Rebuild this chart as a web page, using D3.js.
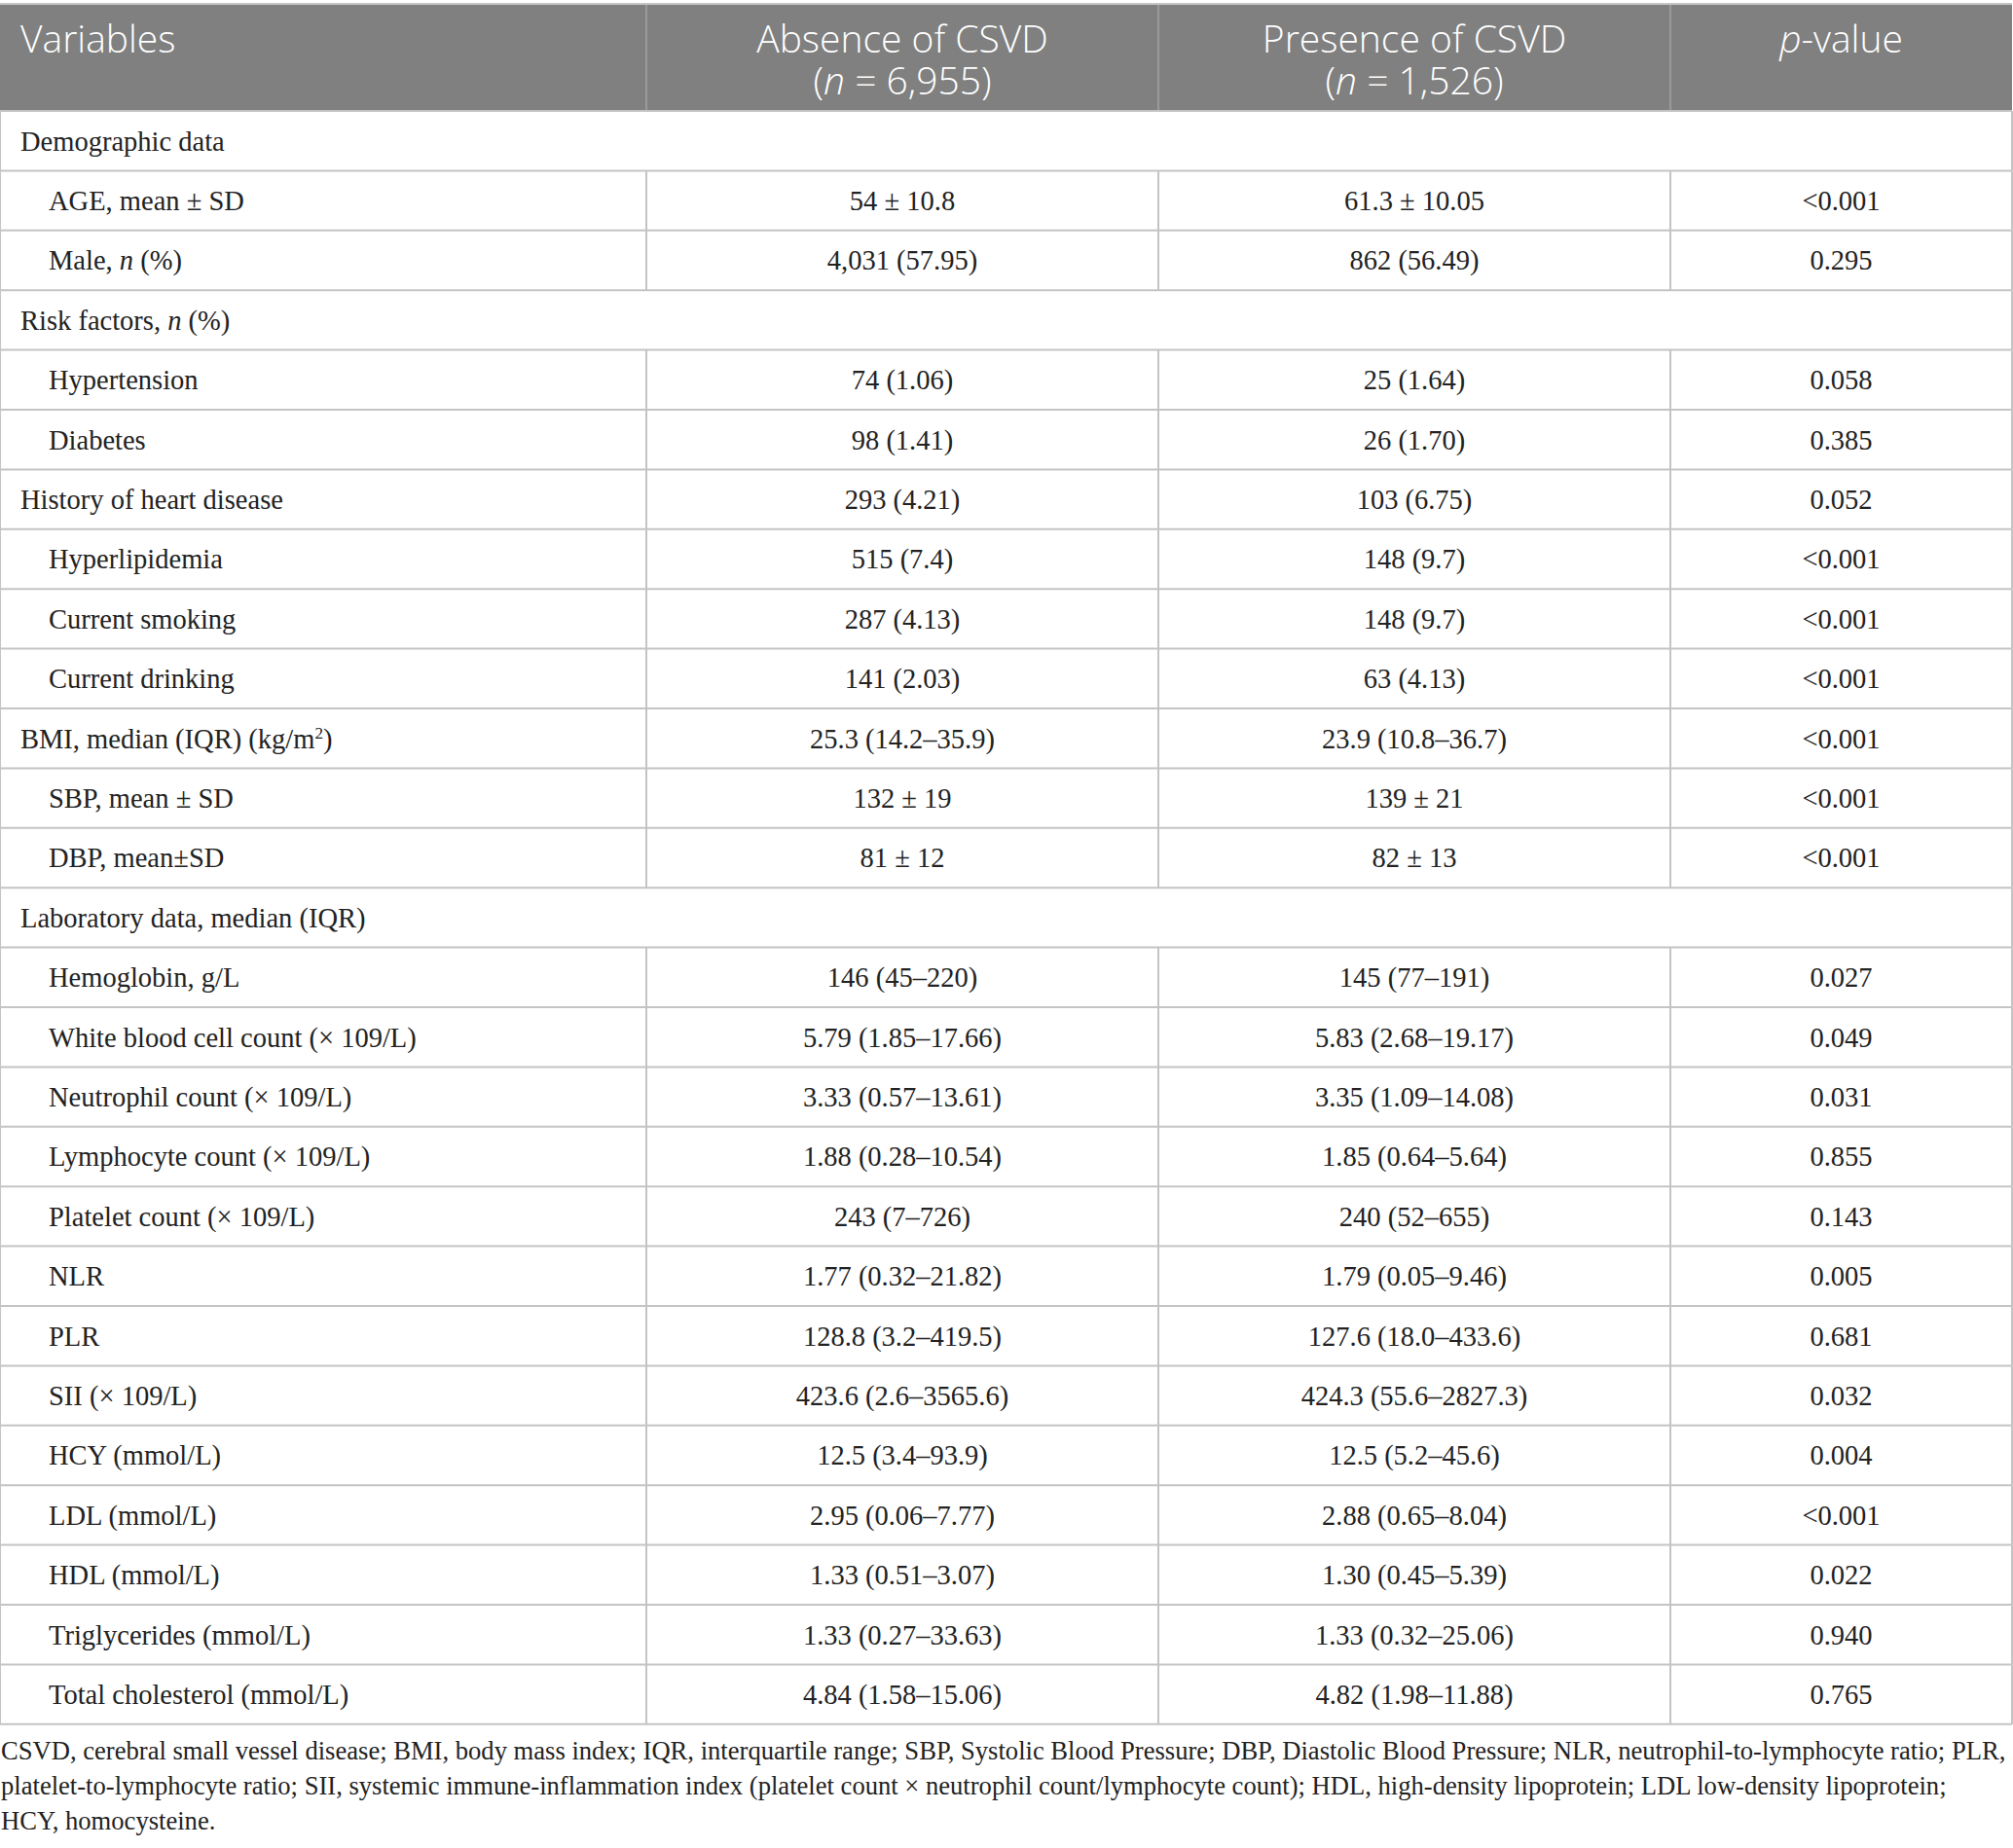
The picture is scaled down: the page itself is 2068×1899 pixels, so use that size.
<!DOCTYPE html>
<html>
<head>
<meta charset="utf-8">
<script src="https://cdn.jsdelivr.net/npm/d3@7"></script>
<style>
  body { margin: 0; background: #fff; }
  svg { display: block; }
</style>
</head>
<body>
<div id="table"></div>
<script>
// column headers (two lines each, *...* = italic)
const headers = [
  ["Variables"],
  ["Absence of CSVD", "(*n* = 6,955)"],
  ["Presence of CSVD", "(*n* = 1,526)"],
  ["*p*-value"]
];

// row labels, ^...^ = superscript
const variables = [
  "Demographic data",
  "AGE, mean ± SD",
  "Male, *n* (%)",
  "Risk factors, *n* (%)",
  "Hypertension",
  "Diabetes",
  "History of heart disease",
  "Hyperlipidemia",
  "Current smoking",
  "Current drinking",
  "BMI, median (IQR) (kg/m^2^)",
  "SBP, mean ± SD",
  "DBP, mean±SD",
  "Laboratory data, median (IQR)",
  "Hemoglobin, g/L",
  "White blood cell count (× 109/L)",
  "Neutrophil count (× 109/L)",
  "Lymphocyte count (× 109/L)",
  "Platelet count (× 109/L)",
  "NLR",
  "PLR",
  "SII (× 109/L)",
  "HCY (mmol/L)",
  "LDL (mmol/L)",
  "HDL (mmol/L)",
  "Triglycerides (mmol/L)",
  "Total cholesterol (mmol/L)"
];

// 0 = section row spanning the table, 1 = top level row, 2 = indented row
const levels = [0, 2, 2, 0, 2, 2, 1, 2, 2, 2, 1, 2, 2, 0, 2, 2, 2, 2, 2, 2, 2, 2, 2, 2, 2, 2, 2];

const absence = [
  "", "54 ± 10.8", "4,031 (57.95)", "", "74 (1.06)", "98 (1.41)", "293 (4.21)",
  "515 (7.4)", "287 (4.13)", "141 (2.03)", "25.3 (14.2–35.9)", "132 ± 19", "81 ± 12",
  "", "146 (45–220)", "5.79 (1.85–17.66)", "3.33 (0.57–13.61)", "1.88 (0.28–10.54)",
  "243 (7–726)", "1.77 (0.32–21.82)", "128.8 (3.2–419.5)", "423.6 (2.6–3565.6)",
  "12.5 (3.4–93.9)", "2.95 (0.06–7.77)", "1.33 (0.51–3.07)", "1.33 (0.27–33.63)",
  "4.84 (1.58–15.06)"
];

const presence = [
  "", "61.3 ± 10.05", "862 (56.49)", "", "25 (1.64)", "26 (1.70)", "103 (6.75)",
  "148 (9.7)", "148 (9.7)", "63 (4.13)", "23.9 (10.8–36.7)", "139 ± 21", "82 ± 13",
  "", "145 (77–191)", "5.83 (2.68–19.17)", "3.35 (1.09–14.08)", "1.85 (0.64–5.64)",
  "240 (52–655)", "1.79 (0.05–9.46)", "127.6 (18.0–433.6)", "424.3 (55.6–2827.3)",
  "12.5 (5.2–45.6)", "2.88 (0.65–8.04)", "1.30 (0.45–5.39)", "1.33 (0.32–25.06)",
  "4.82 (1.98–11.88)"
];

const pvalues = [
  "", "<0.001", "0.295", "", "0.058", "0.385", "0.052", "<0.001", "<0.001", "<0.001",
  "<0.001", "<0.001", "<0.001", "", "0.027", "0.049", "0.031", "0.855", "0.143",
  "0.005", "0.681", "0.032", "0.004", "<0.001", "0.022", "0.940", "0.765"
];

const footnote = [
  "CSVD, cerebral small vessel disease; BMI, body mass index; IQR, interquartile range; SBP, Systolic Blood Pressure; DBP, Diastolic Blood Pressure; NLR, neutrophil-to-lymphocyte ratio; PLR,",
  "platelet-to-lymphocyte ratio; SII, systemic immune-inflammation index (platelet count × neutrophil count/lymphocyte count); HDL, high-density lipoprotein; LDL low-density lipoprotein;",
  "HCY, homocysteine."
];

const W = 2068, H = 1899;
const colEdges = [0, 664, 1190, 1716, 2067];
const tableTop = 4, headBottom = 114, rowH = 61.4;
const bodySize = 28.5;
const serif = "'Liberation Serif', 'Times New Roman', serif";
const sans = "'Open Sans', 'Noto Sans', sans-serif";
const lineCol = "#c4c4c4";

const svg = d3.select("#table")
  .append("svg")
  .attr("width", W)
  .attr("height", H);

svg.append("rect").attr("width", W).attr("height", H).attr("fill", "#fff");

const y = d3.scaleLinear()
  .domain([0, variables.length])
  .range([headBottom, headBottom + rowH * variables.length]);

// write "*italic*" and "^sup^" bits as tspans
function richText(sel, str, size) {
  let back = 0;
  str.split(/(\*[^*]+\*|\^[^^]+\^)/).filter((s) => s !== "").forEach((part) => {
    if (part[0] === "^") {
      const up = Math.round(size * 0.36);
      sel.append("tspan").attr("font-size", size * 0.6).attr("dy", -up).text(part.slice(1, -1));
      back = up;
      return;
    }
    const ts = sel.append("tspan");
    if (back) { ts.attr("dy", back); back = 0; }
    if (part[0] === "*") {
      ts.attr("font-style", "italic").text(part.slice(1, -1));
    } else {
      ts.text(part);
    }
  });
}

// header
const head = svg.append("g");
head.append("rect")
  .attr("x", 0).attr("y", tableTop)
  .attr("width", colEdges[4]).attr("height", headBottom - tableTop)
  .attr("fill", "#7f807f");

head.selectAll("line.sep")
  .data(colEdges.slice(1, 4))
  .enter()
  .append("line")
  .attr("class", "sep")
  .attr("x1", (d) => d).attr("x2", (d) => d)
  .attr("y1", tableTop).attr("y2", headBottom)
  .attr("stroke", "#9a9a9a")
  .attr("stroke-width", 2);

headers.forEach((lines, i) => {
  const cx = i === 0 ? 21 : (colEdges[i] + colEdges[i + 1]) / 2;
  lines.forEach((ln, j) => {
    const t = head.append("text")
      .attr("x", cx)
      .attr("y", 54 + j * 43)
      .attr("text-anchor", i === 0 ? "start" : "middle")
      .attr("font-family", sans)
      .attr("font-weight", 300)
      .attr("font-size", 39)
      .attr("fill", "#fff");
    richText(t, ln, 39);
  });
});

// body rows
const body = svg.append("g").attr("font-family", serif).attr("font-size", bodySize).attr("fill", "#222");

const rows = body.selectAll("g.row")
  .data(variables.map((v, i) => ({ v, i, lvl: levels[i], a: absence[i], p: presence[i], pv: pvalues[i] })))
  .enter()
  .append("g")
  .attr("class", "row")
  .attr("transform", (d) => "translate(0," + y(d.i) + ")");

rows.each(function (d) {
  const g = d3.select(this);
  const t = g.append("text")
    .attr("x", d.lvl === 2 ? 50 : 21)
    .attr("y", rowH / 2 + 10);
  richText(t, d.v, bodySize);
  if (d.lvl !== 0) {
    [d.a, d.p, d.pv].forEach((val, k) => {
      g.append("text")
        .attr("x", (colEdges[k + 1] + colEdges[k + 2]) / 2)
        .attr("y", rowH / 2 + 10)
        .attr("text-anchor", "middle")
        .text(val);
    });
  }
});

// grid lines
const grid = svg.append("g").attr("stroke", lineCol).attr("stroke-width", 2);

grid.selectAll("line.h")
  .data(d3.range(1, variables.length))
  .enter()
  .append("line")
  .attr("x1", 0).attr("x2", colEdges[4])
  .attr("y1", (d) => y(d)).attr("y2", (d) => y(d));

// vertical lines, skipped in section rows
variables.forEach((v, i) => {
  const xs = levels[i] === 0 ? [colEdges[0], colEdges[4]] : colEdges;
  grid.selectAll(null)
    .data(xs)
    .enter()
    .append("line")
    .attr("x1", (d) => d).attr("x2", (d) => d)
    .attr("y1", y(i)).attr("y2", y(i + 1));
});

// outer border
grid.append("line").attr("x1", 0).attr("x2", colEdges[4]).attr("y1", tableTop).attr("y2", tableTop);
grid.append("line").attr("x1", 0).attr("x2", colEdges[4]).attr("y1", headBottom).attr("y2", headBottom);
grid.append("line").attr("x1", 0).attr("x2", colEdges[4])
  .attr("y1", y(variables.length)).attr("y2", y(variables.length));

// footnote
svg.append("g")
  .attr("font-family", serif)
  .attr("font-size", 26.6)
  .attr("fill", "#222")
  .selectAll("text")
  .data(footnote)
  .enter()
  .append("text")
  .attr("x", 1)
  .attr("y", (d, i) => 1808 + i * 36)
  .text((d) => d);
</script>
</body>
</html>
